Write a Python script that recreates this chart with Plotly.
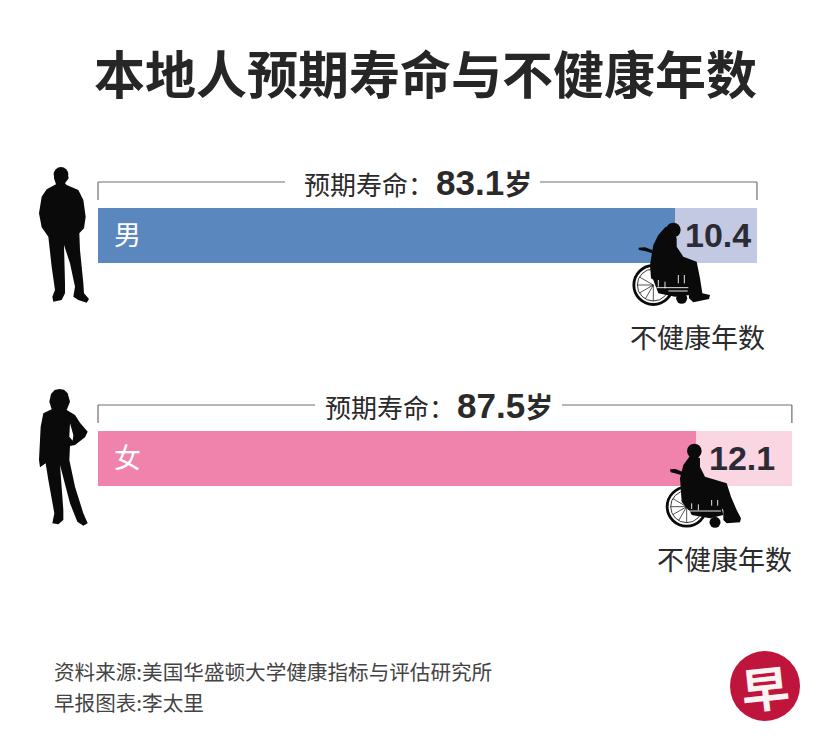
import math
import plotly.graph_objects as go

W, H = 834, 755

title = '本地人预期寿命与不健康年数'
groups = ['男', '女']
life_years = [83.1, 87.5]
unhealthy_years = [10.4, 12.1]
healthy_years = [round(l - u, 1) for l, u in zip(life_years, unhealthy_years)]
healthy_colors = ['#5b87bf', '#f083ab']
unhealthy_colors = ['#c3c9e2', '#fad5e2']
source_lines = ['资料来源:美国华盛顿大学健康指标与评估研究所', '早报图表:李太里']

CJK = 'Noto Sans CJK SC'
LATIN = 'Liberation Sans'
PX_PER_YEAR = 7.93  # bar scale of the original
BAR_LEFT = 98
ROW_Y = [235, 458]
ROW_GAP = ROW_Y[1] - ROW_Y[0]

man = [(122, 60), (143, 70), (146, 85), (135, 100), (140, 105), (175, 120), (190, 150), (197, 200),
       (192, 235), (178, 250), (180, 300), (190, 400), (192, 430), (207, 447), (200, 458), (175, 450),
       (160, 440), (165, 410), (150, 340), (132, 285), (135, 400), (135, 430), (125, 450), (100, 455),
       (97, 440), (105, 420), (95, 350), (85, 260), (65, 232), (57, 190), (65, 140), (80, 118),
       (108, 103), (102, 85), (103, 70)]
woman = [(118, 27), (132, 29), (143, 40), (150, 65), (140, 90), (165, 105), (180, 128), (203, 155), (195, 172),
         (165, 195), (150, 198), (148, 240), (165, 320), (190, 400), (203, 430), (190, 437), (172, 425),
         (150, 370), (120, 255), (130, 390), (130, 420), (115, 433), (97, 430), (103, 400), (85, 300),
         (77, 250), (60, 262), (57, 240), (62, 140), (70, 100), (95, 88), (88, 65), (93, 42), (104, 30)]
woman_gap = [(150, 130), (160, 165), (158, 182), (148, 170)]

chair_origin = [(625, 215), (655, 435)]
chair_head = [(145, 45), (118, 48)]
chair_wheel = [(85, 210), (95, 215)]
chair_caster = [(170, 250), (180, 262)]
sitter = [
    [(140, 40), (155, 70), (155, 95), (175, 125), (215, 140), (225, 190), (232, 235), (255, 240), (252, 252),
     (205, 262), (192, 250), (190, 210), (170, 205), (100, 205), (78, 190), (75, 150), (85, 90), (100, 60), (122, 35)],
    [(118, 60), (135, 70), (135, 95), (150, 125), (215, 145), (228, 185), (245, 225), (258, 250), (255, 262),
     (215, 265), (205, 255), (205, 225), (190, 210), (100, 225), (80, 200), (75, 130), (85, 90), (103, 65)],
]
armrest = [
    [(40, 98), (60, 97), (82, 105), (82, 115), (60, 108), (42, 105)],
    [(45, 103), (62, 102), (85, 112), (85, 122), (60, 115), (47, 112)],
]
chair_frame = [
    [(85, 195), (195, 195), (195, 240), (150, 245), (100, 235)],
    [(90, 200), (195, 195), (205, 240), (165, 250), (110, 240)],
]
chair_flecks = [
    [(100, 195, 100, 215), (120, 200, 120, 220), (160, 180, 160, 205), (178, 180, 178, 205),
     (95, 218, 190, 218), (130, 228, 188, 228)],
    [(110, 205, 110, 222), (130, 208, 130, 226), (170, 195, 170, 212), (188, 195, 188, 212),
     (105, 228, 198, 228)],
]


def px(x, y):
    return x / W, 1 - y / H


def outline(points, ox, oy, scale=1 / 3):
    pts = [px(ox + a * scale, oy + b * scale) for a, b in points]
    return 'M' + ' L'.join(f'{a:.5f},{b:.5f}' for a, b in pts) + ' Z'


def path_shape(d, color='#0a0a0a'):
    return dict(type='path', xref='paper', yref='paper', path=d, fillcolor=color, line=dict(width=0), layer='above')


def line_px(x0, y0, x1, y1, color='#6e6e6e', width=1.2):
    (a, b), (c, d) = px(x0, y0), px(x1, y1)
    return dict(type='line', xref='paper', yref='paper', x0=a, y0=b, x1=c, y1=d,
                line=dict(color=color, width=width), layer='above')


def circle_px(cx, cy, r, fill='rgba(0,0,0,0)', color='#0a0a0a', width=0):
    (a, b), (c, d) = px(cx - r, cy + r), px(cx + r, cy - r)
    return dict(type='circle', xref='paper', yref='paper', x0=a, y0=b, x1=c, y1=d, fillcolor=fill,
                line=dict(color=color, width=width), layer='above')


def text_px(x, y, text, size, anchor='left', color='#2a2a2a', font=CJK, angle=0):
    a, b = px(x, y)
    return dict(xref='paper', yref='paper', x=a, y=b, text=text, showarrow=False, xanchor=anchor, yanchor='middle',
                font=dict(family=font, size=size, color=color), textangle=angle)


fig = go.Figure()
fig.add_trace(go.Bar(y=groups, x=healthy_years, orientation='h', marker=dict(color=healthy_colors, line_width=0),
                     hoverinfo='skip'))
fig.add_trace(go.Bar(y=groups, x=unhealthy_years, orientation='h', marker=dict(color=unhealthy_colors, line_width=0),
                     hoverinfo='skip'))

shapes = []
annotations = [text_px(425, 72, f'<b>{title}</b>', 51, 'center', '#262626')]

shapes.append(path_shape(outline(man, 20, 150)))
shapes.append(circle_px(20 + 123 / 3, 150 + 73 / 3, 7.3, fill='#0a0a0a'))
shapes.append(path_shape(outline(woman, 20, 380)))
shapes.append(path_shape(outline(woman_gap, 20, 380), 'white'))

bracket_gaps = [(285, 540), (315, 562)]
label_x = [302, 323]
value_shift = [-4, -15]
caption_x = [697, 724]
caption_y = [337, 558]

for i, group in enumerate(groups):
    right = BAR_LEFT + life_years[i] * PX_PER_YEAR
    top = ROW_Y[i] - 53
    shapes.append(line_px(BAR_LEFT, top, bracket_gaps[i][0], top))
    shapes.append(line_px(bracket_gaps[i][1], top, right, top))
    shapes.append(line_px(BAR_LEFT, top, BAR_LEFT, top + 18))
    shapes.append(line_px(right, top, right, top + 18))

    annotations.append(text_px(label_x[i], top + 1, '预期寿命：', 26))
    annotations.append(text_px(label_x[i] + 132, top, f'<b>{life_years[i]}<span style="font-size:28px">岁</span></b>',
                               35, font=f'{LATIN}, {CJK}'))

    annotations.append(dict(xref='x', yref='y', x=0, y=group, xshift=14, yshift=2, text=group, showarrow=False,
                            xanchor='left', font=dict(family=CJK, size=27, color='white')))
    annotations.append(dict(xref='x', yref='y', x=life_years[i], y=group, xshift=value_shift[i],
                            text=f'<b>{unhealthy_years[i]}</b>', showarrow=False, xanchor='right',
                            font=dict(family=LATIN, size=34, color='#2b2b35')))
    annotations.append(text_px(caption_x[i], caption_y[i], '不健康年数', 27, 'center'))

    # wheelchair user sitting on the end of the bar
    ox, oy = chair_origin[i]
    cx, cy = ox + chair_wheel[i][0] / 3, oy + chair_wheel[i][1] / 3
    shapes.append(circle_px(cx, cy, 19.5, color='#0a0a0a', width=2.8))
    shapes.append(circle_px(cx, cy, 16, color='#0a0a0a', width=0.8))
    for deg in range(90, 240, 30):
        shapes.append(line_px(cx, cy, cx + 16 * math.cos(math.radians(deg)), cy + 16 * math.sin(math.radians(deg)),
                              '#0a0a0a', 0.7))
    shapes.append(path_shape(outline(sitter[i], ox, oy)))
    shapes.append(circle_px(ox + chair_head[i][0] / 3, oy + chair_head[i][1] / 3, 7.3, fill='#0a0a0a'))
    shapes.append(path_shape(outline(armrest[i], ox, oy)))
    shapes.append(path_shape(outline(chair_frame[i], ox, oy)))
    for a, b, c, d in chair_flecks[i]:
        shapes.append(line_px(ox + a / 3, oy + b / 3, ox + c / 3, oy + d / 3, 'white', 0.9))
    shapes.append(circle_px(ox + chair_caster[i][0] / 3, oy + chair_caster[i][1] / 3, 5.5, fill='#0a0a0a'))

annotations.append(text_px(52, 671, source_lines[0], 20.6, color='#444444'))
annotations.append(text_px(52, 702, source_lines[1], 20.6, color='#444444'))

# paper logo
shapes.append(circle_px(765, 686, 35, fill='#bf153c'))
annotations.append(text_px(765, 686, '<b>早</b>', 48, 'center', '#fdf3f3', angle=-6))

fig.update_layout(
    width=W, height=H, margin=dict(l=0, r=0, t=0, b=0, pad=0), barmode='stack', showlegend=False,
    paper_bgcolor='white', plot_bgcolor='white', bargap=1 - 55 / ROW_GAP,
    shapes=shapes, annotations=annotations,
    xaxis=dict(range=[-BAR_LEFT / PX_PER_YEAR, (W - BAR_LEFT) / PX_PER_YEAR], visible=False, fixedrange=True),
    yaxis=dict(type='category', categoryorder='array', categoryarray=groups,
               range=[(H - ROW_Y[0]) / ROW_GAP, -ROW_Y[0] / ROW_GAP], visible=False, fixedrange=True),
)

# page body has a default margin that would push the chart off its place
fig.write_html("out.html", config=dict(displayModeBar=False), post_script="document.body.style.margin='0';")
